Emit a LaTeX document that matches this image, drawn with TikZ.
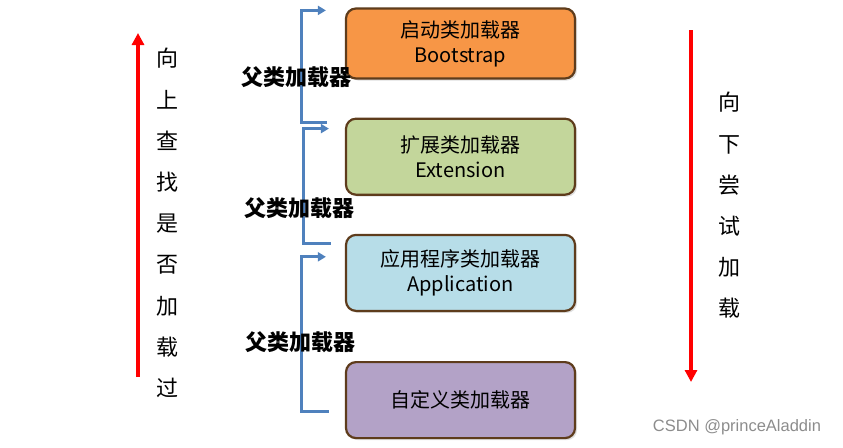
\documentclass[tikz,border=0pt]{standalone}
\usepackage{fontspec}
\setmainfont{Noto Sans CJK SC}
\newfontfamily\markfont{Liberation Sans}
\usetikzlibrary{arrows.meta,positioning,calc,shadows}
\definecolor{bootfill}{HTML}{F79646}
\definecolor{extfill}{HTML}{C3D69B}
\definecolor{appfill}{HTML}{B7DDE8}
\definecolor{userfill}{HTML}{B3A2C7}
\definecolor{loaderedge}{HTML}{5E3C1C}
\definecolor{linkblue}{HTML}{4F81BD}
\tikzset{
	loader/.style={
		rectangle,
        rounded corners=10pt,
        draw=loaderedge,
		line width=2.2pt,
		minimum height=76pt,
		minimum width=229pt,
		align=center,
		font=\fontsize{20}{25}\selectfont,
		drop shadow={opacity=0.25,shadow xshift=2pt,shadow yshift=-2pt},
	},
    link/.style={
        -{Triangle[length=8pt,width=9pt]},
        draw=linkblue,
        line width=3pt,
    },
    parentlabel/.style={
        font=\fontsize{22}{24}\selectfont\bfseries,
    },
    searchline/.style={
        -{Triangle[length=12pt,width=12pt]},
        draw=red,
        line width=4pt,
    },
    column/.style={
        align=center,
        font=\fontsize{22}{41.2}\selectfont,
    }
}
\begin{document}
\begin{tikzpicture}[x=1pt,y=-1pt,node distance=38pt]
\useasboundingbox (0,0) rectangle (843,447);

\node[loader,fill=bootfill,minimum height=70pt] (boot) at (460.5,43.5) {启动类加载器\\Bootstrap};
\node[loader,fill=extfill] (ext) [below=of boot] {扩展类加载器\\Extension};
\node[loader,fill=appfill] (app) [below=of ext] {应用程序类加载器\\Application};
\node[loader,fill=userfill] (user) [below=49pt of app] {自定义类加载器};

\draw[link]
  ($(ext.north west)+(-18,5)$)
  -- ++(-25,0)
  |-
  ($(boot.north west)+(-19,3)$);

\draw[link]
  ($(app.north west)+(-14,10)$)
  -- ++(-27,0)
  |-
  ($(ext.north west)+(-16,11)$);

\draw[link]
  ($(user.north west)+(-16,50)$)
  -- ++(-27,0)
  |-
  ($(app.north west)+(-19,23)$);

\node[parentlabel] (p1) at (296,77) {父类加载器};
\node[parentlabel] (p2) at (299,208) {父类加载器};
\node[parentlabel] (p3) at (300,342) {父类加载器};

\coordinate (upfrom) at (138,377);
\coordinate (upto) at (138,33);
\coordinate (downfrom) at (691,30);
\coordinate (downto) at (691,382);
\draw[searchline] (upfrom) -- (upto);
\draw[searchline] (downfrom) -- (downto);

\node[column] (upword) at (167,223) {向\\上\\查\\找\\是\\否\\加\\载\\过};
\node[column] (downword) at (729,205.5) {向\\下\\尝\\试\\加\\载};

\node[font=\markfont\fontsize{16.5}{18}\selectfont,text=black!45] (mark) at (737,427) {CSDN @princeAladdin};

\end{tikzpicture}
\end{document}
